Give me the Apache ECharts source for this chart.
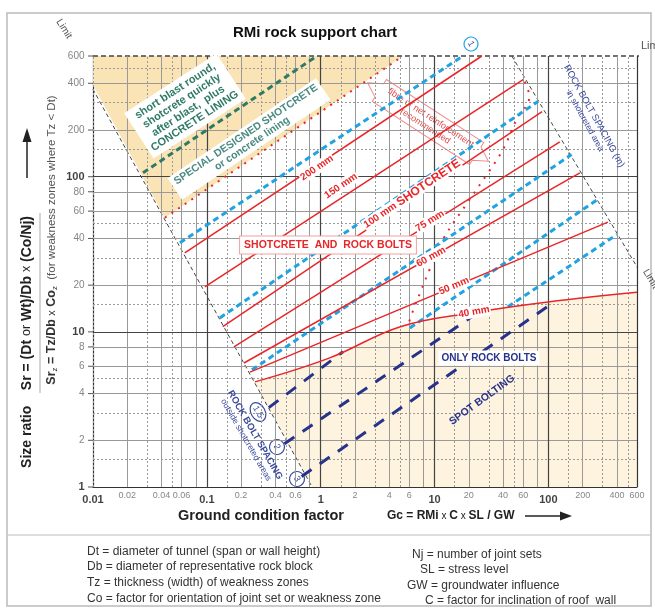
<!DOCTYPE html>
<html lang="en">
<head>
<meta charset="UTF-8">
<title>RMi rock support chart</title>
<style>
  html,body{margin:0;padding:0;background:#fff;}
  #main{width:655px;height:612px;}
</style>
</head>
<body>
<div id="main"></div>
<script src="https://cdn.jsdelivr.net/npm/echarts@6/dist/echarts.min.js"></script>
<script>
// tick labels
const xTicks=[0.01,0.02,0.04,0.06,0.1,0.2,0.4,0.6,1,2,4,6,10,20,40,60,100,200,400,600];
const yTicks=[1,2,4,6,8,10,20,40,60,80,100,200,400,600];
const boldTicks=[0.01,0.1,1,10,100];

// limits (Gc, Sr)
const limitLeft=[[0.0047,1000],[0.84,1]];
const limitRight=[[47.7,600],[860,16.8]];
const limitTop=[[0.01,600],[860,600]];

// shotcrete thickness lines
const mm200=[[0.064,32.3],[26,600]];
const mm150=[[0.096,19.5],[60,423]];
const mm100=[[0.138,10.8],[88,263]];
const mm75=[[0.173,8.0],[126,168]];
const mm60=[[0.212,6.3],[189,106]];
const mm50=[[0.239,5.5],[333,51]];
const mm40=[[0.264,4.76],[1.2,6.8],[5,10.8],[21.7,13.3],[99,15.6],[600,18]];

// rock bolt spacing in shotcreted area (m)
const bolt1=[[0.058,37.5],[17.7,600]];
const bolt125=[[0.13,12.3],[80.7,305]];
const bolt15=[[0.249,5.69],[160,139]];
const bolt2=[[6.07,10.6],[283,73]];
const bolt3=[[44,14.5],[399,42.3]];

// rock bolt spacing outside shotcreted areas (m)
const spot15=[[0.35,3.25],[1.57,7.45]];
const spot2=[[0.48,1.9],[24,13.3]];
const spot3=[[0.68,1.17],[103,14.9]];

// other boundaries
const concreteLine=[[0.0275,106],[0.927,600]];
const specialLine=[[0.0428,54.4],[5.27,600]];
const fibreLine=[[62,410],[68,330],[52,230],[40,150],[30,108],[20,70],[12,40],[9,25],[7.5,18],[6.3,13],[5.8,10.8]];

// shaded areas
const areaConcrete=[[0.01,600],[0.01,390],[0.0428,54.4],[5.27,600]];
const areaBolts=[[0.264,4.76],[1.2,6.8],[5,10.8],[21.7,13.3],[99,15.6],[600,18],[600,1],[0.84,1]];
const areaOutside=[[47.7,600],[600,600],[600,26.2]];

const RED='#e8262a', SKY='#1fa3e3', NAVY='#27338a', TEAL='#2f7a66', LIM='#555';
const RAD=Math.PI/180;
const FONT='"Liberation Sans"';

function line(data,color,width,type,z,extra){
  return Object.assign({type:'line',data:data,symbol:'none',silent:true,animation:false,z:z,
    lineStyle:{color:color,width:width,type:type}},extra||{});
}
function polygon(points,color,z){
  return {type:'custom',silent:true,animation:false,z:z,data:[[1,1]],
    renderItem:function(params,api){
      return {type:'polygon',shape:{points:points.map(function(p){return api.coord(p);})},style:{fill:color}};
    }};
}
function gridVals(decades,mults,max){
  const out=[];
  decades.forEach(function(d){mults.forEach(function(m){const v=+(d*m).toPrecision(3); if(v<max) out.push(v);});});
  return out;
}
const xDec=[0.01,0.1,1,10,100], yDec=[1,10,100];
const solidM=[2,4,6,8], dotM=[1.5,3,5];
const gridLines=[]
  .concat(gridVals(xDec,solidM,600).map(function(v){return {xAxis:v,lineStyle:{color:'#999',width:1,type:'solid'}};}))
  .concat(gridVals(xDec,dotM,600).map(function(v){return {xAxis:v,lineStyle:{color:'#999',width:1,type:[2,2]}};}))
  .concat(gridVals(yDec,solidM,600).map(function(v){return {yAxis:v,lineStyle:{color:'#999',width:1,type:'solid'}};}))
  .concat(gridVals(yDec,dotM,600).map(function(v){return {yAxis:v,lineStyle:{color:'#999',width:1,type:[2,2]}};}))
  .concat([0.1,1,10,100].map(function(v){return {xAxis:v,lineStyle:{color:'#444',width:1.2,type:'solid'}};}))
  .concat([10,100].map(function(v){return {yAxis:v,lineStyle:{color:'#444',width:1.2,type:'solid'}};}));

const xLabelData=xTicks.map(function(v){
  const b=boldTicks.indexOf(v)>=0;
  return {value:[v,1],label:{show:true,position:'bottom',distance:b?7:4,formatter:String(v),
    fontFamily:'Liberation Sans',fontSize:b?11:9,fontWeight:b?'bold':'normal',color:b?'#111':'#666'}};
});
const yLabelData=yTicks.map(function(v){
  const b=boldTicks.indexOf(v)>=0;
  return {value:[0.01,v],label:{show:true,position:'left',distance:8,formatter:String(v),
    fontFamily:'Liberation Sans',fontSize:b?11:10,fontWeight:b?'bold':'normal',color:b?'#111':'#666'}};
});

const chart=echarts.init(document.getElementById('main'));

function T(x,y,text,o){
  o=o||{};
  return {type:'text',x:x,y:y,rotation:(o.rot||0)*RAD,z:o.z||50,silent:true,
    style:Object.assign({text:text,fill:o.color||'#222',font:o.font||('11px '+FONT),
      align:o.align||'center',verticalAlign:'middle',lineHeight:o.lh||12},o.style||{})};
}
function circ(x,y,text,rx,ry,rot,stroke,color){
  return {type:'group',x:x,y:y,rotation:rot*RAD,z:60,silent:true,children:[
    {type:'ellipse',shape:{cx:0,cy:0,rx:rx,ry:ry},style:{fill:'#fff',stroke:stroke,lineWidth:1.2}},
    {type:'text',style:{text:text,x:0,y:0,align:'center',verticalAlign:'middle',fill:color,font:'9px '+FONT}}
  ]};
}
const LEG={align:'left',color:'#333',font:'12px '+FONT};

const graphics=[
  {type:'rect',shape:{x:7,y:13,width:644,height:593},style:{fill:'none',stroke:'#bbb',lineWidth:1.5},silent:true,z:0},
  {type:'line',shape:{x1:8,y1:535,x2:650,y2:535},style:{stroke:'#bbb',lineWidth:1.2},silent:true},
  T(315,33,'RMi rock support chart',{font:'bold 15px '+FONT,color:'#111'}),
  // y axis title
  {type:'text',x:27,y:342,rotation:90*RAD,silent:true,style:{text:'{b|Size ratio    Sr = (Dt }{n|or}{b| Wt)/Db }{n|x}{b| (Co/Nj)}',
    align:'center',verticalAlign:'middle',rich:{b:{font:'bold 14px '+FONT,fill:'#222'},n:{font:'12.5px '+FONT,fill:'#222'}}}},
  {type:'line',shape:{x1:27,y1:178,x2:27,y2:140},style:{stroke:'#222',lineWidth:1.5},silent:true},
  {type:'polygon',shape:{points:[[27,128],[22.5,142],[31.5,142]]},style:{fill:'#222'},silent:true},
  {type:'line',shape:{x1:40,y1:213,x2:40,y2:393},style:{stroke:'#aaa',lineWidth:1},silent:true},
  {type:'text',x:52,y:240,rotation:90*RAD,silent:true,style:{text:'{b|Sr}{s|z}{b| = Tz/Db }{n|x}{b| Co}{s|z}{g|  (for weakness zones where Tz < Dt)}',
    align:'center',verticalAlign:'middle',rich:{b:{font:'bold 12.5px '+FONT,fill:'#333'},s:{font:'8px '+FONT,fill:'#333',padding:[6,0,0,0]},
    n:{font:'11px '+FONT,fill:'#333'},g:{font:'11.5px '+FONT,fill:'#555'}}}},
  // x axis title
  T(178,516,'Ground condition factor',{align:'left',font:'bold 14.5px '+FONT,color:'#222'}),
  {type:'text',x:387,y:516,silent:true,style:{text:'{f|Gc = RMi}{x| x }{f|C}{x| x }{f|SL / GW}',
    align:'left',verticalAlign:'middle',rich:{f:{font:'bold 12px '+FONT,fill:'#222'},x:{font:'10px '+FONT,fill:'#222'}}}},
  {type:'line',shape:{x1:525,y1:516,x2:562,y2:516},style:{stroke:'#222',lineWidth:1.5},silent:true},
  {type:'polygon',shape:{points:[[572,516],[560,511.5],[560,520.5]]},style:{fill:'#222'},silent:true},
  // explanations
  T(87,552,'Dt = diameter of tunnel (span or wall height)',LEG),
  T(87,567,'Db = diameter of representative rock block',LEG),
  T(87,583,'Tz = thickness (width) of weakness zones',LEG),
  T(87,599,'Co = factor for orientation of joint set or weakness zone',LEG),
  T(412,555,'Nj = number of joint sets',LEG),
  T(420,570,'SL = stress level',LEG),
  T(407,586,'GW = groundwater influence',LEG),
  T(425,601,'C = factor for inclination of roof  wall',LEG),
  // limits
  T(64,29,'Limit',{rot:-58,color:LIM,font:'10px '+FONT}),
  T(641,46,'Limit',{align:'left',color:LIM,font:'11px '+FONT}),
  T(645,270,'Limit',{rot:-59,align:'left',color:LIM,font:'10px '+FONT}),
  // area texts
  T(185,106,'short blast round,\nshotcrete quickly\nafter blast,  plus\nCONCRETE LINING',{rot:33,color:TEAL,font:'bold 11px '+FONT,
    style:{backgroundColor:'#fff',padding:[3,4,3,4]}}),
  T(249,139,'SPECIAL DESIGNED SHOTCRETE\nor concrete lining',{rot:34,color:'#4a8a80',font:'bold 10.5px '+FONT,lh:11,
    style:{backgroundColor:'#fff',padding:[2,4,2,4]}}),
  T(328,245,'SHOTCRETE  AND  ROCK BOLTS',{color:RED,font:'bold 10.5px '+FONT,
    style:{backgroundColor:'#fff',borderColor:'#f2a0a0',borderWidth:1,padding:[3,4,2,4]}}),
  T(489,358,'ONLY ROCK BOLTS',{color:NAVY,font:'bold 10px '+FONT,style:{backgroundColor:'#fff',padding:[2,3,1,3]}}),
  T(482,400,'SPOT BOLTING',{rot:36,color:NAVY,font:'bold 10.5px '+FONT}),
  T(594,116,'ROCK BOLT SPACING (m)',{rot:-61,color:'#3b4a9c',font:'9.5px '+FONT}),
  T(585,121,'in shotcreted area',{rot:-61,color:'#3b4a9c',font:'8.5px '+FONT}),
  T(255,435,'ROCK BOLT SPACING',{rot:-60,color:'#3b4a9c',font:'bold 9.5px '+FONT}),
  T(246,440,'outside shotcreted areas',{rot:-60,color:'#3b4a9c',font:'8.5px '+FONT}),
  // fibre arrow
  {type:'group',x:428,y:122,rotation:-33*RAD,z:55,silent:true,children:[
    {type:'polygon',shape:{points:[[-72,0],[-58,-8],[-58,-13],[58,-13],[58,-8],[72,0],[58,8],[58,13],[-58,13],[-58,8]]},
      style:{fill:'rgba(255,255,255,0.85)',stroke:'#f08a8a',lineWidth:1}},
    {type:'text',style:{text:'fibre or net reinforcement\nrecommended',x:0,y:0,align:'center',verticalAlign:'middle',lineHeight:10,
      fill:'#e04848',font:'9px '+FONT}}
  ]},
  // line labels
  T(317,168,'200 mm',{rot:34,color:RED,font:'bold 10px '+FONT,style:{backgroundColor:'#fff',padding:[0,1,0,1]}}),
  T(341,186,'150 mm',{rot:34,color:RED,font:'bold 10px '+FONT,style:{backgroundColor:'#fff',padding:[0,1,0,1]}}),
  T(412,194,'100 mm {s|SHOTCRETE}',{rot:34,color:RED,font:'bold 10px '+FONT,style:{backgroundColor:'#fff',padding:[0,1,0,1],
    rich:{s:{font:'bold 12px '+FONT,fill:RED}}}}),
  T(430,221,'75 mm',{rot:32,color:RED,font:'bold 10px '+FONT,style:{backgroundColor:'#fff',padding:[0,1,0,1]}}),
  T(431,257,'60 mm',{rot:29,color:RED,font:'bold 10px '+FONT,style:{backgroundColor:'#fff',padding:[0,1,0,1]}}),
  T(454,286,'50 mm',{rot:23,color:RED,font:'bold 10px '+FONT,style:{backgroundColor:'#fff',padding:[0,1,0,1]}}),
  T(474,312,'40 mm',{rot:10,color:RED,font:'bold 10px '+FONT,style:{backgroundColor:'#fff',padding:[0,1,0,1]}}),
  // spacing circles
  circ(471,44,'1',7,7,-60,SKY,'#3b4a9c'),
  circ(548,95,'1.25',12,8,-60,SKY,'#3b4a9c'),
  circ(585,148,'1.5',10,8,-60,SKY,'#3b4a9c'),
  circ(607,192,'2',7.5,7.5,-60,SKY,'#3b4a9c'),
  circ(625,225,'3',7.5,7.5,-60,SKY,'#3b4a9c'),
  circ(258,412,'1.5',10,7,-60,'#3b4a9c','#3b4a9c'),
  circ(277,447,'2',7.5,7.5,-60,'#3b4a9c','#3b4a9c'),
  circ(297,479,'3',7.5,7.5,-60,'#3b4a9c','#3b4a9c')
];

const option={
  animation:false,
  grid:{left:93,right:18,top:56,bottom:125,containLabel:false},
  xAxis:{type:'log',logBase:10,min:0.01,max:600,
    axisLine:{show:true,onZero:false,lineStyle:{color:'#333',width:1.2}},
    axisTick:{show:false},axisLabel:{show:false},splitLine:{show:false}},
  yAxis:{type:'log',logBase:10,min:1,max:600,
    axisLine:{show:true,onZero:false,lineStyle:{color:'#333',width:1.2}},
    axisTick:{show:false},axisLabel:{show:false},splitLine:{show:false}},
  graphic:graphics,
  series:[
    polygon(areaConcrete,'#fae3b4',1),
    polygon(areaBolts,'#fdf3df',1),
    {type:'line',data:[],silent:true,z:2,animation:false,
      markLine:{silent:true,symbol:['none','none'],label:{show:false},animation:false,data:gridLines}},
    polygon(areaOutside,'#ffffff',3),
    line(limitLeft,'#444',1,[4,3],4,{clip:false}),
    line(limitRight,'#444',1,[4,3],4,{clip:false}),
    line(limitTop,'#444',1.5,[5,3],4,{clip:false}),
    {type:'line',data:[],silent:true,z:4,animation:false,
      markLine:{silent:true,symbol:['none','none'],label:{show:false},animation:false,
        data:[{xAxis:600,lineStyle:{color:'#333',width:1.2,type:'solid'}}]}},
    // y tick marks
    {type:'custom',silent:true,animation:false,z:4,clip:false,data:yTicks.map(function(v){return [0.01,v];}),
      renderItem:function(params,api){
        const p=api.coord([api.value(0),api.value(1)]);
        return {type:'line',shape:{x1:p[0]-5,y1:p[1],x2:p[0],y2:p[1]},style:{stroke:'#555',lineWidth:1}};
      }},
    line(concreteLine,TEAL,3,[6,4],5),
    line(specialLine,RED,2,[2,6],5),
    line(fibreLine,RED,2,[2,7],5,{smooth:0.4}),
    line(mm200,RED,1.5,'solid',6),
    line(mm150,RED,1.5,'solid',6),
    line(mm100,RED,1.5,'solid',6),
    line(mm75,RED,1.5,'solid',6),
    line(mm60,RED,1.5,'solid',6),
    line(mm50,RED,1.5,'solid',6),
    line(mm40,RED,1.5,'solid',6,{smooth:0.4}),
    line(bolt1,SKY,3,[6,4],5),
    line(bolt125,SKY,3,[6,4],5),
    line(bolt15,SKY,3,[6,4],5),
    line(bolt2,SKY,3,[6,4],5),
    line(bolt3,SKY,3,[6,4],5),
    line(spot15,NAVY,3,[12,10],5),
    line(spot2,NAVY,3,[12,10],5),
    line(spot3,NAVY,3,[12,10],5),
    {type:'scatter',data:xLabelData,symbolSize:1,itemStyle:{color:'rgba(0,0,0,0)'},silent:true,clip:false,z:7},
    {type:'scatter',data:yLabelData,symbolSize:1,itemStyle:{color:'rgba(0,0,0,0)'},silent:true,clip:false,z:7}
  ]
};
chart.setOption(option);
</script>
</body>
</html>
